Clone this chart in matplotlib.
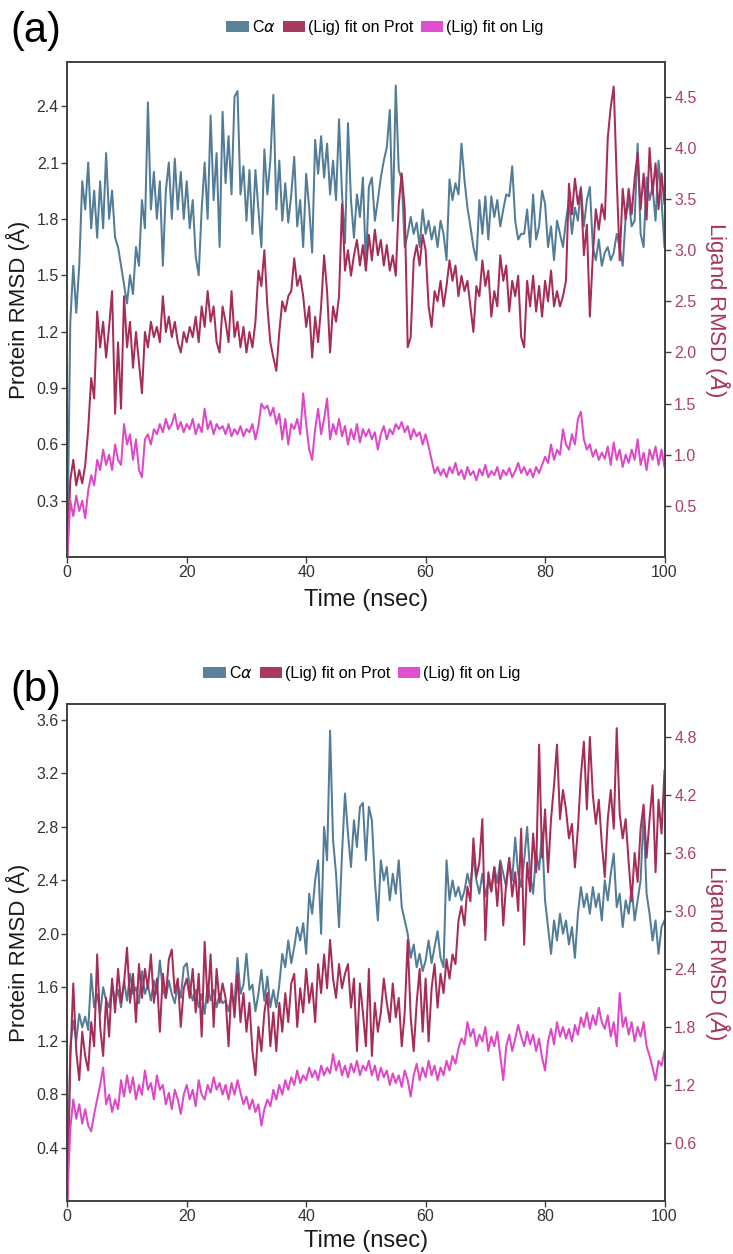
import numpy as np
import matplotlib
matplotlib.use("Agg")
import matplotlib.pyplot as plt
from matplotlib.patches import Patch

NARROW = ["Liberation Sans Narrow", "Liberation Sans", "DejaVu Sans"]
WIDE = ["Liberation Sans", "DejaVu Sans"]
plt.rcParams["font.family"] = NARROW

# ---------------- data (one value every 0.5 ns, 0 .. 100 ns) ----------------
TIME_STEP = 0.5
x_ticks = [0, 20, 40, 60, 80, 100]
legend_labels = ["C$\\alpha$", "(Lig) fit on Prot", "(Lig) fit on Lig"]

a_ca = [0, 1.25, 1.55, 1.30, 1.55, 2.0, 1.85, 2.1, 1.75, 1.95,
        1.70, 2.0, 1.75, 2.15, 1.80, 1.95, 1.70, 1.65, 1.55, 1.45,
        1.35, 1.50, 1.40, 1.65, 1.55, 1.90, 1.75, 2.42, 1.85, 2.05,
        1.80, 2.0, 1.55, 1.95, 2.10, 1.80, 2.12, 1.85, 2.05, 1.80,
        2.0, 1.75, 1.90, 1.60, 1.50, 1.85, 2.10, 1.80, 2.35, 1.90,
        2.15, 1.65, 2.37, 1.99, 2.24, 1.93, 2.45, 2.48, 1.93, 2.08,
        1.79, 2.06, 1.72, 2.06, 1.85, 1.65, 2.17, 1.93, 2.11, 2.46,
        1.85, 2.11, 1.79, 1.99, 1.78, 1.93, 2.13, 1.76, 1.90, 1.65,
        2.04, 1.86, 1.62, 2.22, 2.04, 2.24, 2.02, 2.20, 1.93, 2.11,
        1.90, 2.33, 1.93, 1.67, 2.31, 1.90, 1.70, 1.93, 1.81, 2.02,
        1.55, 1.97, 2.02, 1.79, 1.90, 2.02, 2.11, 2.18, 2.38, 1.79,
        2.51, 2.06, 2.01, 1.65, 1.72, 1.81, 1.72, 1.78, 1.65, 1.85,
        1.72, 1.79, 1.69, 1.76, 1.65, 1.79, 1.72, 1.58, 2.01, 1.90,
        1.99, 1.93, 2.20, 2.01, 1.86, 1.76, 1.65, 1.58, 1.90, 1.72,
        1.92, 1.69, 1.92, 1.81, 1.90, 1.76, 1.85, 1.93, 1.92, 2.08,
        1.79, 1.69, 1.72, 1.72, 1.85, 1.65, 1.93, 1.69, 1.76, 1.95,
        1.88, 1.65, 1.76, 1.58, 1.79, 1.72, 1.65, 1.79, 1.90, 1.72,
        1.86, 1.79, 1.97, 1.76, 1.90, 1.97, 1.65, 1.58, 1.69, 1.55,
        1.62, 1.65, 1.58, 1.62, 1.72, 1.65, 1.55, 1.81, 1.90, 1.76,
        1.79, 2.20, 1.72, 1.65, 2.02, 1.90, 1.97, 1.79, 2.11, 1.90,
        1.65]

a_lig_prot = [0, 0.75, 0.95, 0.70, 0.85, 0.72, 0.90, 1.25, 1.75, 1.55,
              2.40, 2.05, 2.30, 1.95, 2.25, 2.60, 1.40, 2.10, 1.45, 2.55,
              2.05, 2.30, 1.85, 2.20, 1.90, 1.60, 2.20, 2.05, 2.30, 2.15,
              2.25, 2.10, 2.55, 2.20, 2.35, 2.15, 2.30, 2.10, 2.0, 2.20,
              2.10, 2.25, 2.15, 2.35, 2.10, 2.45, 2.25, 2.60, 2.30, 2.45,
              2.10, 2.0, 2.45, 2.30, 2.10, 2.60, 2.15, 2.30, 2.05, 2.25,
              2.00, 2.20, 2.05, 2.30, 2.80, 2.65, 3.00, 2.45, 2.10, 1.95,
              1.82, 2.20, 2.50, 2.40, 2.55, 2.60, 2.92, 2.65, 2.75, 2.55,
              2.25, 2.45, 1.95, 2.35, 2.10, 2.45, 2.95, 2.60, 2.0, 2.45,
              2.30, 2.55, 3.45, 2.80, 3.00, 2.75, 2.95, 3.10, 2.85, 3.05,
              2.80, 3.15, 2.90, 3.20, 2.95, 3.10, 2.85, 3.05, 2.80, 2.95,
              2.75, 3.45, 3.75, 3.40, 2.05, 2.15, 2.90, 3.05, 2.85, 3.15,
              3.00, 2.45, 2.25, 2.60, 2.50, 2.70, 2.45, 2.65, 2.90, 2.70,
              2.85, 2.55, 2.75, 2.60, 2.70, 2.45, 2.20, 2.65, 2.55, 2.90,
              2.65, 2.80, 2.35, 2.60, 2.45, 2.95, 2.70, 2.85, 2.40, 2.70,
              2.55, 2.75, 2.15, 2.05, 2.70, 2.45, 2.75, 2.40, 2.65, 2.35,
              2.70, 2.50, 2.80, 2.45, 2.60, 2.45, 2.55, 2.70, 3.65, 3.35,
              3.70, 3.45, 3.60, 2.95, 3.25, 2.35, 2.95, 3.40, 3.20, 3.45,
              3.30, 4.10, 4.40, 4.60, 3.70, 2.90, 3.60, 3.30, 3.60, 3.35,
              3.70, 3.95, 3.40, 3.75, 3.30, 4.00, 3.55, 3.85, 3.40, 3.75,
              3.45]

a_lig_lig = [0, 0.55, 0.40, 0.60, 0.45, 0.55, 0.38, 0.65, 0.80, 0.70,
             0.95, 0.85, 1.05, 0.90, 1.00, 0.85, 1.10, 0.95, 0.90, 1.30,
             1.10, 1.20, 0.95, 1.15, 0.85, 0.78, 1.15, 1.20, 1.10, 1.25,
             1.20, 1.30, 1.22, 1.35, 1.25, 1.30, 1.40, 1.25, 1.32, 1.22,
             1.30, 1.25, 1.35, 1.20, 1.30, 1.22, 1.45, 1.25, 1.33, 1.20,
             1.30, 1.25, 1.28, 1.20, 1.30, 1.18, 1.25, 1.20, 1.28, 1.18,
             1.25, 1.22, 1.30, 1.15, 1.28, 1.50, 1.45, 1.48, 1.38, 1.46,
             1.30, 1.40, 1.15, 1.35, 1.10, 1.30, 1.25, 1.35, 1.20, 1.60,
             1.30, 1.05, 0.95, 1.25, 1.45, 1.20, 1.35, 1.55, 1.15, 1.30,
             1.20, 1.35, 1.18, 1.28, 1.10, 1.25, 1.15, 1.30, 1.12, 1.25,
             1.18, 1.25, 1.15, 1.22, 1.05, 1.20, 1.28, 1.15, 1.25, 1.20,
             1.30, 1.25, 1.32, 1.22, 1.28, 1.15, 1.25, 1.18, 1.22, 1.10,
             1.20, 1.08, 0.95, 0.82, 0.88, 0.80, 0.86, 0.78, 0.88, 0.82,
             0.92, 0.80, 0.85, 0.76, 0.88, 0.80, 0.84, 0.75, 0.86, 0.80,
             0.90, 0.78, 0.84, 0.80, 0.88, 0.76, 0.85, 0.80, 0.87, 0.78,
             0.84, 0.92, 0.82, 0.88, 0.80, 0.86, 0.78, 0.88, 0.82, 0.90,
             0.98, 0.92, 1.10, 0.95, 1.05, 1.00, 1.25, 1.10, 1.05, 1.20,
             1.10, 1.35, 1.42, 1.15, 1.05, 1.10, 0.98, 1.05, 0.95, 1.02,
             0.96, 1.08, 0.90, 1.12, 0.95, 1.05, 0.88, 1.00, 0.92, 1.05,
             0.95, 1.15, 0.90, 1.02, 0.85, 1.05, 0.95, 1.08, 0.90, 1.05,
             0.88]

b_ca = [0, 1.15, 1.35, 1.20, 1.40, 1.30, 1.38, 1.28, 1.70, 1.45,
        1.55, 1.40, 1.60, 1.50, 1.45, 1.62, 1.50, 1.58, 1.45, 1.65,
        1.50, 1.70, 1.55, 1.60, 1.48, 1.72, 1.55, 1.62, 1.50, 1.65,
        1.55, 1.80, 1.58, 1.52, 1.65, 1.55, 1.48, 1.62, 1.52, 1.75,
        1.78, 1.60, 1.50, 1.58, 1.45, 1.55, 1.40, 1.62, 1.50, 1.58,
        1.45, 1.55, 1.48, 1.50, 1.42, 1.55, 1.48, 1.82, 1.55, 1.62,
        1.85, 1.58, 1.62, 1.42, 1.55, 1.73, 1.50, 1.68, 1.45, 1.58,
        1.45, 1.62, 1.85, 1.75, 1.95, 1.78, 1.90, 2.05, 1.95, 2.08,
        1.85, 2.30, 2.15, 2.40, 2.55, 2.00, 2.80, 2.55, 3.52, 2.70,
        2.45, 2.05, 2.60, 3.05, 2.75, 2.50, 2.85, 2.65, 2.95, 2.98,
        2.55, 2.95, 2.85, 2.40, 2.10, 2.55, 2.40, 2.50, 2.25, 2.45,
        2.30, 2.55, 2.20, 2.10, 2.00, 1.82, 1.92, 1.75, 1.85, 1.72,
        1.80, 1.95, 1.78, 1.90, 2.02, 1.82, 1.75, 2.55, 2.25, 2.40,
        2.28, 2.35, 2.25, 2.32, 2.45, 2.35, 2.58, 2.40, 2.30, 2.45,
        2.28, 2.40, 2.32, 2.50, 2.38, 2.55, 2.45, 2.35, 2.55, 2.40,
        2.72, 2.45, 2.35, 2.55, 2.80, 2.45, 2.30, 2.60, 2.48, 2.75,
        2.25, 2.05, 1.85, 2.10, 1.95, 2.15, 2.00, 2.10, 1.92, 2.05,
        1.82, 2.15, 2.35, 2.20, 2.30, 2.15, 2.35, 2.20, 2.30, 2.10,
        2.40, 2.25, 2.45, 2.60, 2.20, 2.30, 2.05, 2.25, 2.15, 2.35,
        2.10, 2.25, 2.40, 2.90, 2.30, 2.15, 1.95, 2.10, 1.85, 2.05,
        2.10]

b_lig_prot = [0, 1.45, 2.25, 1.55, 1.25, 1.75, 1.50, 1.35, 1.85, 1.60,
              2.55, 1.80, 1.50, 2.10, 1.70, 2.30, 1.95, 2.40, 2.05, 2.25,
              2.62, 2.05, 2.35, 1.85, 2.45, 2.10, 2.40, 2.20, 2.55, 2.05,
              2.30, 1.75, 2.35, 2.10, 2.50, 2.60, 2.15, 2.30, 1.80, 2.20,
              2.30, 2.10, 2.40, 1.95, 2.35, 1.70, 2.68, 2.05, 2.55, 1.80,
              2.40, 2.05, 2.25, 2.10, 1.60, 2.25, 1.90, 2.35, 1.85, 2.15,
              1.75, 2.05, 1.55, 1.30, 1.80, 1.55, 1.95, 2.15, 1.60, 1.95,
              1.55, 2.05, 1.75, 2.15, 1.85, 2.25, 2.35, 1.80, 2.20, 1.95,
              2.40, 2.05, 2.25, 1.85, 2.45, 2.15, 2.55, 2.20, 2.70, 2.30,
              2.10, 2.45, 2.20, 2.35, 2.45, 2.00, 2.30, 1.55, 2.25, 1.95,
              1.60, 2.40, 1.50, 2.05, 1.75, 1.95, 2.30, 2.05, 1.85, 2.25,
              1.90, 2.10, 1.60, 1.95, 2.70, 1.90, 1.55, 2.05, 2.40, 1.75,
              2.30, 1.65, 2.20, 2.45, 2.00, 2.35, 2.15, 2.50, 2.30, 2.55,
              2.45, 2.90, 3.05, 2.85, 3.25, 3.10, 3.75, 3.35, 3.50, 3.95,
              2.70, 3.40, 3.20, 3.45, 3.05, 3.50, 2.85, 3.30, 3.55, 3.15,
              3.40, 3.00, 3.85, 2.65, 3.50, 3.20, 3.80, 3.40, 4.72, 3.55,
              4.05, 3.40, 3.95, 4.30, 4.72, 3.95, 4.25, 4.05, 3.75, 3.90,
              3.45, 3.85, 4.40, 4.75, 4.05, 4.80, 4.20, 3.90, 4.15, 3.70,
              3.35, 3.95, 4.25, 3.85, 4.89, 4.00, 3.75, 3.95, 3.50, 3.10,
              3.60, 3.30, 3.85, 4.10, 3.55, 3.95, 4.30, 3.40, 4.15, 3.80,
              4.45]

b_lig_lig = [0, 0.75, 1.05, 0.85, 1.00, 0.80, 0.95, 0.78, 0.72, 0.90,
             1.05, 1.20, 1.38, 1.00, 1.10, 0.92, 1.05, 0.95, 1.25, 1.08,
             1.30, 1.12, 1.28, 1.05, 1.20, 1.10, 1.35, 1.15, 1.22, 1.05,
             1.30, 1.15, 1.20, 1.00, 1.12, 0.95, 1.15, 1.05, 0.90, 1.10,
             1.20, 1.05, 1.15, 0.98, 1.25, 1.10, 1.05, 1.20, 1.12, 1.28,
             1.15, 1.22, 1.10, 1.20, 1.05, 1.22, 1.10, 1.25, 1.12, 1.00,
             1.08, 0.95, 1.05, 0.92, 1.00, 0.78, 0.95, 1.05, 0.98, 1.15,
             1.05, 1.20, 1.10, 1.25, 1.15, 1.28, 1.20, 1.35, 1.22, 1.30,
             1.25, 1.38, 1.28, 1.35, 1.25, 1.40, 1.30, 1.38, 1.32, 1.52,
             1.35, 1.45, 1.30, 1.40, 1.28, 1.42, 1.33, 1.45, 1.30, 1.40,
             1.35, 1.45, 1.30, 1.40, 1.25, 1.38, 1.28, 1.35, 1.20, 1.32,
             1.22, 1.30, 1.18, 1.35, 1.25, 1.08, 1.30, 1.42, 1.25, 1.38,
             1.28, 1.45, 1.30, 1.40, 1.25, 1.38, 1.30, 1.45, 1.35, 1.50,
             1.42, 1.58, 1.68, 1.62, 1.85, 1.70, 1.78, 1.60, 1.72, 1.65,
             1.80, 1.55, 1.70, 1.60, 1.75, 1.50, 1.25, 1.60, 1.72, 1.55,
             1.68, 1.82, 1.70, 1.60, 1.75, 1.62, 1.72, 1.55, 1.68, 1.48,
             1.35, 1.65, 1.78, 1.62, 1.85, 1.70, 1.80, 1.68, 1.78, 1.65,
             1.82, 1.72, 1.90, 1.80, 1.95, 1.78, 1.92, 1.82, 2.00, 1.85,
             1.78, 1.92, 1.70, 1.85, 1.60, 2.15, 1.80, 1.90, 1.72, 1.85,
             1.65, 1.80, 1.70, 1.85, 1.60, 1.50, 1.38, 1.25, 1.45, 1.40,
             1.55]

# axis ranges and ticks
a_left_ticks = [0.3, 0.6, 0.9, 1.2, 1.5, 1.8, 2.1, 2.4]
a_right_ticks = [0.5, 1.0, 1.5, 2.0, 2.5, 3.0, 3.5, 4.0, 4.5]
b_left_ticks = [0.4, 0.8, 1.2, 1.6, 2.0, 2.4, 2.8, 3.2, 3.6]
b_right_ticks = [0.6, 1.2, 1.8, 2.4, 3.0, 3.6, 4.2, 4.8]
a_left_lim = (0, 2.635)
a_right_lim = (0, 4.84)
b_left_lim = (0, 3.72)
b_right_lim = (0, 5.14)

# ---------------- style ----------------
C_BLUE = "#527c97"
C_RED = "#a52d58"
C_MAG = "#dd48c9"
C_LEG = ["#5a809a", "#a83a5f", "#e04fd0"]
C_RTICK = "#b03d68"
C_SPINE = "#404040"
LW = 1.45

W, H = 733, 1254
fig = plt.figure(figsize=(W / 100, H / 100), dpi=100)


def px_axes(left, top, right, bottom):
    return fig.add_axes([left / W, 1 - bottom / H, (right - left) / W, (bottom - top) / H])


def draw_panel(ax, ca, prot, lig, llim, rlim, lticks, rticks, xlab_y):
    t_ca = np.arange(len(ca)) * TIME_STEP
    t_pr = np.arange(len(prot)) * TIME_STEP
    t_lg = np.arange(len(lig)) * TIME_STEP
    ax.plot(t_ca, ca, color=C_BLUE, lw=LW)
    ax2 = ax.twinx()
    ax2.plot(t_pr, prot, color=C_RED, lw=LW)
    ax2.plot(t_lg, lig, color=C_MAG, lw=LW)
    ax.set_xlim(0, 100)
    ax.set_ylim(*llim)
    ax2.set_ylim(*rlim)
    ax.set_xticks(x_ticks)
    ax.set_xticklabels([str(v) for v in x_ticks])
    ax.set_yticks(lticks)
    ax.set_yticklabels([f"{v:.1f}" for v in lticks])
    ax2.set_yticks(rticks)
    ax2.set_yticklabels([f"{v:.1f}" for v in rticks])
    ax.tick_params(axis="both", labelsize=11.5, length=4, width=1, color=C_SPINE,
                   labelcolor="#333333", pad=2)
    ax2.tick_params(axis="y", labelsize=11.5, length=4, width=1, color=C_SPINE,
                    labelcolor=C_RTICK, pad=3)
    for a in (ax, ax2):
        for s in a.spines.values():
            s.set_color(C_SPINE)
            s.set_linewidth(1.2)
    ax.set_xlabel("Time (nsec)", fontsize=17, color="#1a1a1a")
    ax.xaxis.set_label_coords(0.5, xlab_y)
    ax.set_ylabel("Protein RMSD (Å)", fontsize=16, family=WIDE, color="#1a1a1a")
    ax.yaxis.set_label_coords(-0.062, 0.5)
    ax2.set_ylabel("Ligand RMSD ($Å$)", fontsize=16, family=WIDE, color="#a83560",
                   rotation=270, va="bottom")
    ax2.yaxis.set_label_coords(1.064, 0.5)
    return ax2


ax_a = px_axes(67.3, 62, 664.5, 557)
ax_b = px_axes(67.3, 704, 664.5, 1201)
draw_panel(ax_a, a_ca, a_lig_prot, a_lig_lig, a_left_lim, a_right_lim,
           a_left_ticks, a_right_ticks, -0.064)
draw_panel(ax_b, b_ca, b_lig_prot, b_lig_lig, b_left_lim, b_right_lim,
           b_left_ticks, b_right_ticks, -0.058)

handles = [Patch(facecolor=c, edgecolor="none") for c in C_LEG]
for xcen, ycen in ((385, 27), (362, 673)):
    fig.legend(handles, legend_labels, loc="center", bbox_to_anchor=(xcen / W, 1 - ycen / H),
               ncol=3, frameon=False, fontsize=11.5, handlelength=1.4, handleheight=0.75,
               handletextpad=0.2, columnspacing=0.45, borderpad=0)

fig.text(10 / W, 1 - 31 / H, "(a)", fontsize=30, ha="left", va="center")
fig.text(10 / W, 1 - 690 / H, "(b)", fontsize=30, ha="left", va="center")

fig.savefig("out.png", dpi=100)
